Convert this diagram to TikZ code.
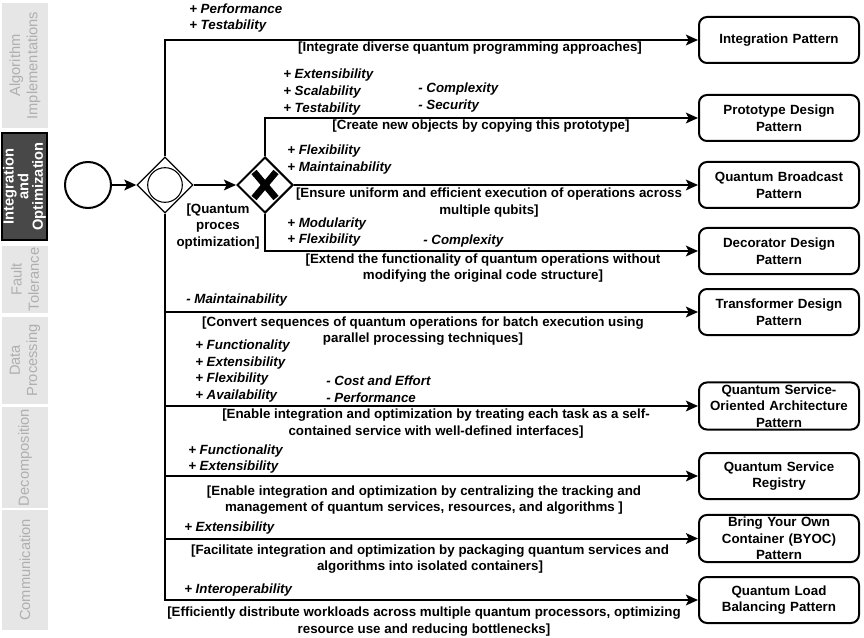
\documentclass[tikz,border=0pt]{standalone}
\usepackage{fontspec}
\setmainfont{Liberation Sans}
\usetikzlibrary{shapes.geometric,arrows.meta}
\definecolor{sidefill}{RGB}{230,230,230}
\definecolor{sidetext}{RGB}{175,175,175}
\definecolor{sidedark}{RGB}{72,72,72}
\begin{document}
\begin{tikzpicture}[x=0.75pt,y=-0.75pt,
  flow/.style={line width=1.5pt,-{Stealth[length=9pt,width=8pt,inset=2pt]}},
  pat/.style={draw,line width=1.5pt,rounded corners=6pt,minimum width=120pt,minimum height=34.5pt,
    text width=114pt,align=center,inner xsep=2pt,inner ysep=1.5pt,font=\bfseries\fontsize{10}{12.5}\selectfont},
  attr/.style={font=\bfseries\itshape\fontsize{10}{12.5}\selectfont,align=left,anchor=west,inner sep=0pt},
  cond/.style={font=\bfseries\fontsize{10}{12.5}\selectfont,align=center,inner sep=0pt},
  side/.style={fill=sidefill,text=sidetext,rotate=90,minimum height=34.5pt,inner sep=0pt,align=center,
    font=\fontsize{11}{13}\selectfont},
  sidecur/.style={fill=sidedark,draw=black,line width=1.2pt,text=white,rotate=90,minimum height=33.5pt,inner sep=0pt,
    align=center,font=\bfseries\fontsize{11}{11}\selectfont},
]
\useasboundingbox (0,0) rectangle (864,638);
% sidebar
\node[side,minimum width=93.75pt] (s1) at (25,65.5) {Algorithm\\Implementations};
\node[sidecur,minimum width=80.25pt] (s2) at (24.5,186.5) {Integration\\and\\Optimization};
\node[side,minimum width=50.25pt] (s3) at (25,279.5) {Fault\\Tolerance};
\node[side,minimum width=65.25pt] (s4) at (25,360.5) {Data\\Processing};
\node[side,minimum width=75.75pt] (s5) at (25,457.5) {Decomposition};
\node[side,minimum width=90pt] (s6) at (25,570) {Communication};
% events and gateways
\node[circle,draw,line width=1.5pt,minimum size=34.5pt,inner sep=0pt] (start) at (88,185) {};
\node[diamond,draw,line width=1pt,minimum width=42pt,minimum height=42pt,inner sep=0pt] (g1) at (165,185) {};
\node[circle,draw,line width=0.8pt,minimum size=26pt,inner sep=0pt] (g1c) at (g1) {};
\node[diamond,draw,line width=1.5pt,minimum width=42pt,minimum height=42pt,inner sep=0pt] (g2) at (265,185) {};
\draw[line width=5pt] ([shift={(-11,-13)}]g2.center) -- ([shift={(11,13)}]g2.center);
\draw[line width=5pt] ([shift={(-11,13)}]g2.center) -- ([shift={(11,-13)}]g2.center);
% pattern boxes
\node[pat] (b1) at (779,40) {Integration Pattern};
\node[pat] (b2) at (779,118) {Prototype Design\\Pattern};
\node[pat] (b3) at (779,185) {Quantum Broadcast\\Pattern};
\node[pat] (b4) at (779,251) {Decorator Design\\Pattern};
\node[pat] (b5) at (779,312) {Transformer Design\\Pattern};
\node[pat] (b6) at (779,406) {Quantum Service-\\Oriented Architecture\\Pattern};
\node[pat] (b7) at (779,476) {Quantum Service\\Registry};
\node[pat] (b8) at (779,538.5) {Bring Your Own\\Container (BYOC)\\Pattern};
\node[pat] (b9) at (779,600) {Quantum Load\\Balancing Pattern};
% connectors
\draw[flow] (start) -- (g1);
\draw[flow] (g1) -- (g2);
\draw[flow] (g1.north) |- (b1);
\draw[flow] (g2.north) |- (b2);
\draw[flow] (g2.east) -- (b3);
\draw[flow] (g2.south) |- (b4);
\draw[flow] (g1.south) |- (b5);
\draw[flow] (g1.south) |- (b6);
\draw[flow] (g1.south) |- (b7);
\draw[flow] (g1.south) |- (b8);
\draw[flow] (g1.south) |- (b9);
% labels
\node[attr] (a1) at (189,18) {+ Performance\\+ Testability};
\node[cond] (c1) at (470,48) {[Integrate diverse quantum programming approaches]};
\node[attr] (a2) at (283,92) {+ Extensibility\\+ Scalability\\+ Testability};
\node[attr] (d2) at (418,97.5) {- Complexity\\- Security};
\node[cond] (c2) at (481,126) {[Create new objects by copying this prototype]};
\node[attr] (a3) at (287,159.5) {+ Flexibility\\+ Maintainability};
\node[cond] (c3) at (489,202.5) {[Ensure uniform and efficient execution of operations across\\multiple qubits]};
\node[attr] (a4) at (287,232) {+ Modularity\\+ Flexibility};
\node[attr] (d4) at (423,241) {- Complexity};
\node[cond] (c4) at (483,268) {[Extend the functionality of quantum operations without\\modifying the original code structure]};
\node[cond] (q) at (218,226.5) {[Quantum\\proces\\optimization]};
\node[attr] (a5) at (186,300) {- Maintainability};
\node[cond] (c5) at (423,331) {[Convert sequences of quantum operations for batch execution using\\parallel processing techniques]};
\node[attr] (a6) at (195,371) {+ Functionality\\+ Extensibility\\+ Flexibility\\+ Availability};
\node[attr] (d6) at (326,389) {- Cost and Effort\\- Performance};
\node[cond] (c6) at (436,423.5) {[Enable integration and optimization by treating each task as a self-\\contained service with well-defined interfaces]};
\node[attr] (a7) at (188,459) {+ Functionality\\+ Extensibility};
\node[cond] (c7) at (424,500) {[Enable integration and optimization by centralizing the tracking and\\management of quantum services, resources, and algorithms ]};
\node[attr] (a8) at (184,528) {+ Extensibility};
\node[cond] (c8) at (430,559) {[Facilitate integration and optimization by packaging quantum services and\\algorithms into isolated containers]};
\node[attr] (a9) at (184,590) {+ Interoperability};
\node[cond] (c9) at (424,621.5) {[Efficiently distribute workloads across multiple quantum processors, optimizing\\resource use and reducing bottlenecks]};
\end{tikzpicture}
\end{document}
